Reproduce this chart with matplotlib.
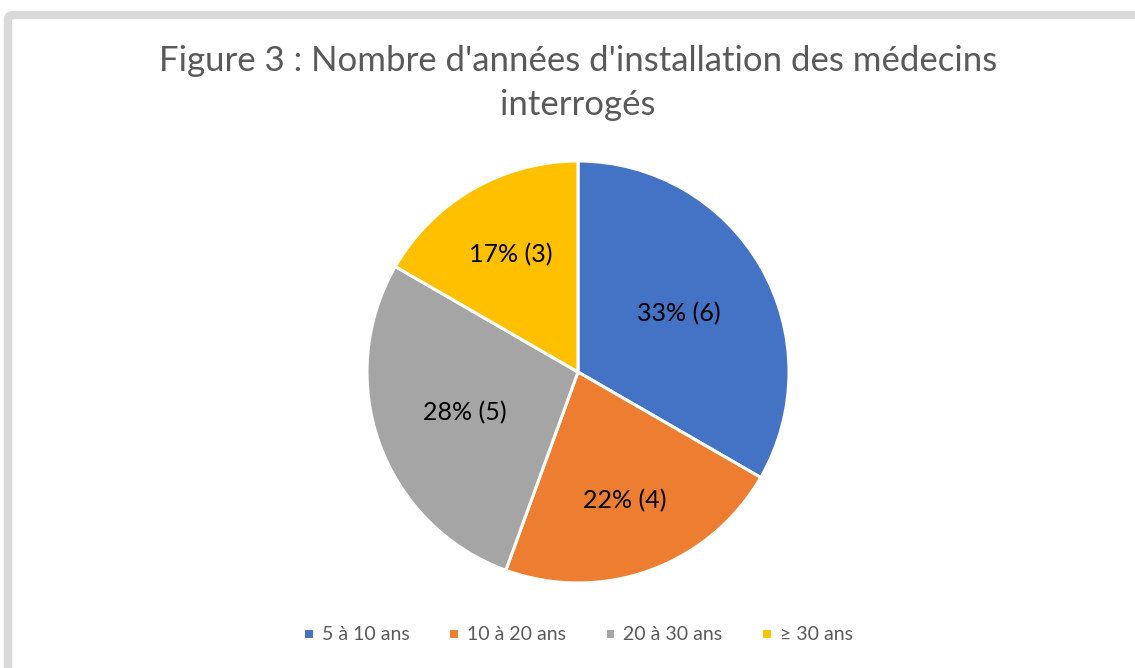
import numpy as np
import matplotlib.pyplot as plt
from matplotlib.patches import FancyBboxPatch

categories = ['5 à 10 ans', '10 à 20 ans', '20 à 30 ans', '≥ 30 ans']
counts = [6, 4, 5, 3]
colors = ['#4472C4', '#ED7D31', '#A5A5A5', '#FFC000']
title = "Figure 3 : Nombre d'années d'installation des médecins\ninterrogés"

plt.rcParams['font.family'] = ['Lato', 'DejaVu Sans']

W, H = 1135, 668
fig = plt.figure(figsize=(W / 100, H / 100), dpi=100)

# chart frame (only top/left edges visible in the crop)
frame = FancyBboxPatch((8 / W, -0.2), 1.2, 1 - 15 / H + 0.2,
                       boxstyle='round,pad=0,rounding_size=0.006',
                       transform=fig.transFigure, facecolor='none',
                       edgecolor='#D9D9D9', linewidth=6, zorder=0)
fig.patches.append(frame)

cx, cy, r = 578, 372, 211
ax = fig.add_axes([(cx - r) / W, (H - cy - r) / H, 2 * r / W, 2 * r / H])
total = sum(counts)
wedges, texts, autotexts = ax.pie(
    counts, colors=colors, startangle=90, counterclock=False, radius=1,
    autopct=lambda p: f"{round(p)}% ({round(p * total / 100)})",
    pctdistance=0.6,
    wedgeprops=dict(edgecolor='white', linewidth=2.2),
    textprops=dict(fontsize=18, color='black'))

# label distances roughly as Excel placed them
dists = [0.55, 0.65, 0.57, 0.64]
for w, t, d in zip(wedges, autotexts, dists):
    ang = np.deg2rad((w.theta1 + w.theta2) / 2)
    t.set_position((d * np.cos(ang), d * np.sin(ang)))

ax.set_xlim(-1, 1)
ax.set_ylim(-1, 1)
ax.set_aspect('equal')
ax.axis('off')

fig.text(cx / W, 1 - 83 / H, title, ha='center', va='center', fontsize=25,
         color='#595959', linespacing=1.45)

fig.legend(wedges, categories, loc='center', bbox_to_anchor=(cx / W, 1 - 635 / H),
           ncol=4, frameon=False, fontsize=14, labelcolor='#595959',
           handlelength=0.55, handleheight=0.55, handletextpad=0.4,
           columnspacing=2.0)

fig.savefig('out.png', dpi=100)
